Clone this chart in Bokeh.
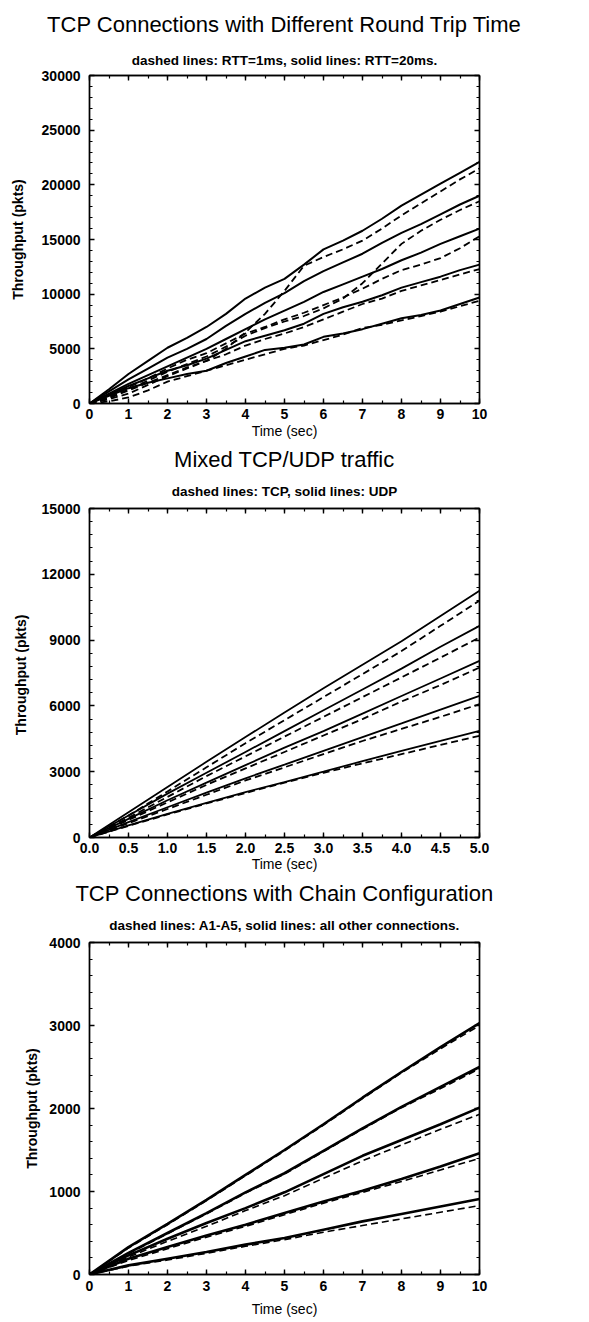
from bokeh.plotting import figure
from bokeh.layouts import column
from bokeh.models import Range1d, LinearAxis, FixedTicker
from bokeh.embed import file_html
from bokeh.resources import INLINE

# ---------------- Chart 1: TCP connections with different RTT ----------------
rtt_time = [0, 0.5, 1, 1.5, 2, 2.5, 3, 3.5, 4, 4.5, 5, 5.5, 6, 6.5, 7, 7.5, 8, 8.5, 9, 9.5, 10]
rtt20_a = [0, 1300, 2700, 3900, 5100, 6000, 7000, 8200, 9600, 10600, 11400, 12700, 14100, 14900, 15800, 16900, 18100, 19100, 20100, 21100, 22100]
rtt20_b = [0, 1100, 2200, 3200, 4200, 5000, 5900, 7100, 8200, 9200, 10100, 11200, 12100, 12900, 13700, 14700, 15600, 16400, 17300, 18200, 19000]
rtt20_c = [0, 900, 1800, 2600, 3400, 4200, 5000, 5900, 6800, 7700, 8500, 9300, 10200, 10900, 11600, 12300, 13100, 13800, 14600, 15300, 16000]
rtt20_d = [0, 800, 1600, 2300, 3000, 3500, 4100, 4900, 5700, 6200, 6700, 7300, 8200, 8800, 9300, 9900, 10600, 11100, 11600, 12200, 12700]
rtt20_e = [0, 700, 1400, 1900, 2300, 2700, 3000, 3700, 4300, 4900, 5100, 5400, 6100, 6400, 6800, 7300, 7800, 8100, 8500, 9100, 9700]
rtt1_a = [0, 400, 900, 1700, 2500, 3200, 3900, 5000, 6500, 8200, 10300, 12600, 13400, 14100, 14900, 16000, 17200, 18300, 19400, 20500, 21500]
rtt1_b = [0, 500, 1300, 2100, 2900, 3600, 4300, 5200, 6200, 6900, 7500, 8000, 8700, 9600, 11000, 12800, 14600, 15800, 16800, 17700, 18500]
rtt1_c = [0, 600, 1500, 2300, 3200, 4000, 4600, 5500, 6400, 7000, 7700, 8300, 9000, 9700, 10500, 11400, 12200, 12700, 13300, 14200, 15300]
rtt1_d = [0, 500, 1200, 1900, 2600, 3300, 3900, 4500, 5300, 5900, 6400, 7000, 7700, 8400, 9100, 9600, 10300, 10800, 11300, 11800, 12300]
rtt1_e = [0, 200, 550, 1200, 2000, 2500, 3000, 3500, 4000, 4500, 5000, 5300, 5800, 6300, 6900, 7200, 7600, 8000, 8400, 8900, 9400]
c1_xticks = [0, 1, 2, 3, 4, 5, 6, 7, 8, 9, 10]
c1_xlabels = ["0", "1", "2", "3", "4", "5", "6", "7", "8", "9", "10"]
c1_yticks = [0, 5000, 10000, 15000, 20000, 25000, 30000]
c1_ylabels = ["0", "5000", "10000", "15000", "20000", "25000", "30000"]

# ---------------- Chart 2: mixed TCP/UDP ----------------
mix_time = [0, 0.5, 1, 1.5, 2, 2.5, 3, 3.5, 4, 4.5, 5]
udp_a = [0, 1150, 2300, 3450, 4580, 5700, 6800, 7880, 8950, 10100, 11250]
udp_b = [0, 1000, 2000, 2950, 3900, 4850, 5800, 6750, 7700, 8700, 9650]
udp_c = [0, 850, 1700, 2500, 3300, 4100, 4850, 5650, 6450, 7250, 8050]
udp_d = [0, 700, 1380, 2050, 2700, 3320, 3950, 4580, 5200, 5830, 6460]
udp_e = [0, 550, 1080, 1580, 2070, 2530, 3000, 3480, 3950, 4400, 4860]
tcp_a = [0, 1000, 2100, 3200, 4300, 5350, 6400, 7450, 8500, 9650, 10800]
tcp_b = [0, 900, 1850, 2800, 3700, 4600, 5500, 6400, 7300, 8200, 9120]
tcp_c = [0, 800, 1600, 2400, 3150, 3900, 4650, 5400, 6200, 6950, 7750]
tcp_d = [0, 650, 1300, 1950, 2600, 3200, 3800, 4400, 4950, 5500, 6080]
tcp_e = [0, 530, 1050, 1550, 2030, 2500, 2950, 3380, 3800, 4220, 4640]
c2_xticks = [0, 0.5, 1, 1.5, 2, 2.5, 3, 3.5, 4, 4.5, 5]
c2_xlabels = ["0.0", "0.5", "1.0", "1.5", "2.0", "2.5", "3.0", "3.5", "4.0", "4.5", "5.0"]
c2_yticks = [0, 3000, 6000, 9000, 12000, 15000]
c2_ylabels = ["0", "3000", "6000", "9000", "12000", "15000"]

# ---------------- Chart 3: chain configuration ----------------
chain_time = [0, 1, 2, 3, 4, 5, 6, 7, 8, 9, 10]
other_a = [0, 330, 610, 900, 1200, 1500, 1810, 2130, 2440, 2740, 3030]
other_b = [0, 260, 500, 740, 990, 1220, 1490, 1760, 2020, 2260, 2500]
other_c = [0, 230, 430, 620, 800, 990, 1210, 1430, 1620, 1810, 2010]
other_d = [0, 190, 330, 470, 600, 740, 880, 1010, 1150, 1300, 1460]
other_e = [0, 110, 190, 270, 360, 440, 540, 640, 730, 820, 910]
chain_a = [0, 320, 600, 890, 1190, 1490, 1800, 2120, 2430, 2720, 3000]
chain_b = [0, 250, 490, 730, 980, 1210, 1480, 1750, 2010, 2240, 2480]
chain_c = [0, 210, 400, 580, 770, 950, 1160, 1370, 1560, 1750, 1930]
chain_d = [0, 170, 310, 450, 580, 720, 860, 990, 1120, 1260, 1400]
chain_e = [0, 100, 175, 255, 340, 420, 510, 590, 670, 750, 830]
c3_xticks = [0, 1, 2, 3, 4, 5, 6, 7, 8, 9, 10]
c3_xlabels = ["0", "1", "2", "3", "4", "5", "6", "7", "8", "9", "10"]
c3_yticks = [0, 1000, 2000, 3000, 4000]
c3_ylabels = ["0", "1000", "2000", "3000", "4000"]

FONT = "Liberation Sans"


def frange(a, b, step):
    out = []
    v = a
    while v <= b + 1e-9:
        out.append(round(v, 6))
        v += step
    return out


def style_axis(ax, ticks, minor, labels, show_labels):
    ax.ticker = FixedTicker(ticks=ticks, minor_ticks=minor)
    ax.major_tick_in = 5
    ax.major_tick_out = 0
    ax.minor_tick_in = 3
    ax.minor_tick_out = 0
    ax.axis_line_color = "black"
    ax.axis_line_width = 1.4
    ax.major_tick_line_color = "black"
    ax.major_tick_line_width = 1.4
    ax.minor_tick_line_color = "black"
    ax.minor_tick_line_width = 1.2
    ax.major_label_text_font = FONT
    ax.major_label_text_font_style = "bold"
    if show_labels:
        ax.major_label_overrides = {t: l for t, l in zip(ticks, labels)}
        ax.major_label_text_color = "black"
        ax.major_label_text_font_size = "14px"
        ax.major_label_standoff = 6
    else:
        ax.major_label_text_color = None
        ax.major_label_text_font_size = "1px"
        ax.major_label_standoff = 0


def panel(h, top, bottom, title, subtitle, xr, yr, xt, xm, xl, yt, ym, yl, ylabel,
          sub_gap, title_gap, xtick_standoff, xlab_standoff, ylab_standoff):
    p = figure(width=581, height=h, x_range=Range1d(*xr), y_range=Range1d(*yr),
               output_backend="svg", toolbar_location=None,
               min_border_left=89, min_border_right=102,
               min_border_top=top, min_border_bottom=bottom)
    p.background_fill_color = "white"
    p.border_fill_color = "white"
    p.outline_line_color = "black"
    p.outline_line_width = 1.4
    p.xgrid.visible = False
    p.ygrid.visible = False

    style_axis(p.xaxis[0], xt, xm, xl, True)
    style_axis(p.yaxis[0], yt, ym, yl, True)
    p.xaxis[0].major_label_standoff = xtick_standoff
    p.yaxis[0].major_label_standoff = 9
    p.xaxis[0].axis_label = "Time (sec)"
    p.xaxis[0].axis_label_text_font = FONT
    p.xaxis[0].axis_label_text_font_style = "normal"
    p.xaxis[0].axis_label_text_font_size = "14px"
    p.xaxis[0].axis_label_text_color = "black"
    p.xaxis[0].axis_label_standoff = xlab_standoff
    p.yaxis[0].axis_label = ylabel
    p.yaxis[0].axis_label_text_font = FONT
    p.yaxis[0].axis_label_text_font_style = "bold"
    p.yaxis[0].axis_label_text_font_size = "14px"
    p.yaxis[0].axis_label_text_color = "black"
    p.yaxis[0].axis_label_standoff = ylab_standoff

    # mirror ticks on top, carrying the subtitle as its label
    top_ax = LinearAxis()
    style_axis(top_ax, xt, xm, xl, False)
    top_ax.axis_label = subtitle
    top_ax.axis_label_text_font = FONT
    top_ax.axis_label_text_font_size = "13.5px"
    top_ax.axis_label_text_font_style = "bold"
    top_ax.axis_label_text_color = "black"
    top_ax.axis_label_standoff = sub_gap

    # outer, tick-less axis carrying the main title
    title_ax = LinearAxis(ticker=FixedTicker(ticks=[]))
    title_ax.axis_line_color = None
    title_ax.major_tick_line_color = None
    title_ax.minor_tick_line_color = None
    title_ax.major_tick_out = 0
    title_ax.minor_tick_out = 0
    title_ax.major_label_standoff = 0
    title_ax.major_label_text_font_size = "1px"
    title_ax.major_label_text_color = None
    title_ax.axis_label = title
    title_ax.axis_label_text_font = FONT
    title_ax.axis_label_text_font_size = "22px"
    title_ax.axis_label_text_font_style = "normal"
    title_ax.axis_label_text_color = "black"
    title_ax.axis_label_standoff = title_gap

    right_ax = LinearAxis()
    style_axis(right_ax, yt, ym, yl, False)
    p.add_layout(top_ax, "above")
    p.add_layout(title_ax, "above")
    p.add_layout(right_ax, "right")
    return p


p1 = panel(441, 75, 38, "TCP Connections with Different Round Trip Time",
           "dashed lines: RTT=1ms, solid lines: RTT=20ms.",
           (0, 10), (0, 30000), c1_xticks, frange(0, 10, 0.5), c1_xlabels,
           c1_yticks, frange(0, 30000, 1000), c1_ylabels, "Throughput (pkts)",
           8, 13, 5, 1, 13)
for s in [rtt20_a, rtt20_b, rtt20_c, rtt20_d, rtt20_e]:
    p1.line(rtt_time, s, line_color="black", line_width=2.0)
for s in [rtt1_a, rtt1_b, rtt1_c, rtt1_d, rtt1_e]:
    p1.line(rtt_time, s, line_color="black", line_width=1.8, line_dash="7 4")

p2 = panel(433, 67, 37, "Mixed TCP/UDP traffic", "dashed lines: TCP, solid lines: UDP",
           (0, 5), (0, 15000), c2_xticks, frange(0, 5, 0.25), c2_xlabels,
           c2_yticks, frange(0, 15000, 600), c2_ylabels, "Throughput  (pkts)",
           10, 9, 5, 0, 10)
for s in [udp_a, udp_b, udp_c, udp_d, udp_e]:
    p2.line(mix_time, s, line_color="black", line_width=1.8)
for s in [tcp_a, tcp_b, tcp_c, tcp_d, tcp_e]:
    p2.line(mix_time, s, line_color="black", line_width=1.8, line_dash="7 4")

p3 = panel(448, 68, 48, "TCP Connections with Chain Configuration",
           "dashed lines: A1-A5, solid lines: all other connections.",
           (0, 10), (0, 4000), c3_xticks, frange(0, 10, 0.5), c3_xlabels,
           c3_yticks, frange(0, 4000, 200), c3_ylabels, "Throughput (pkts)",
           10, 9, 6, 7, 6)
for s in [other_a, other_b, other_c, other_d, other_e]:
    p3.line(chain_time, s, line_color="black", line_width=2.6)
for s in [chain_a, chain_b, chain_c, chain_d, chain_e]:
    p3.line(chain_time, s, line_color="black", line_width=1.6, line_dash="7 4")

layout = column(p1, p2, p3, spacing=0)
open("out.html", "w").write(file_html(layout, INLINE))
